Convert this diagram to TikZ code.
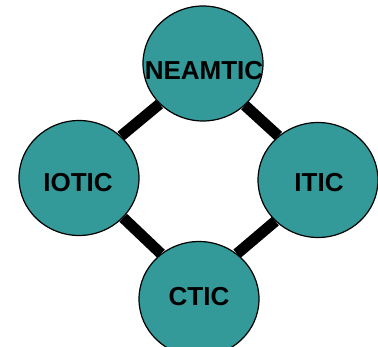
\documentclass[tikz,border=0pt]{standalone}
\usepackage{fontspec}
\setmainfont{Liberation Sans}
\usetikzlibrary{shapes.geometric,backgrounds}
\definecolor{tealfill}{RGB}{51,153,153}
\tikzset{
  circ/.style={ellipse, draw=black, line width=1.2pt, fill=tealfill, inner sep=0pt,
    minimum width=120pt, minimum height=115pt},
  lbl/.style={font=\bfseries\fontsize{26}{30}\selectfont, text=black},
  link/.style={line width=11pt, draw=black}
}
\begin{document}
\begin{tikzpicture}[x=1pt,y=-1pt]
\useasboundingbox (0,0) rectangle (378,347);
\node[circ] (neamtic) at (203,63.5) {};
\node[circ] (iotic) at (79,178) {};
\node[circ] (itic) at (318,180) {};
\node[circ] (ctic) at (199,299) {};
\node[lbl] (tneamtic) at (204,70.3) {NEAMTIC};
\node[lbl] (tiotic) at (78,183) {IOTIC};
\node[lbl] (titic) at (319,183) {ITIC};
\node[lbl] (tctic) at (199,297) {CTIC};
\begin{pgfonlayer}{background}
\draw[link] (iotic.45) -- (neamtic.223);
\draw[link] (neamtic.315) -- (itic.132);
\draw[link] (iotic.318) -- (ctic.130);
\draw[link] (ctic.50) -- (itic.224);
\end{pgfonlayer}
\end{tikzpicture}
\end{document}
